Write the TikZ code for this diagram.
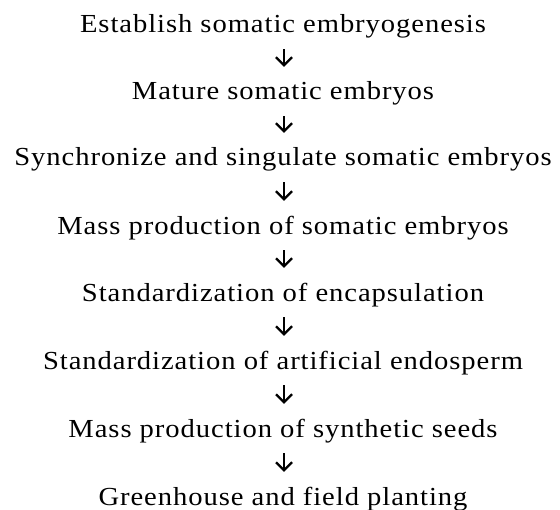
\documentclass[tikz,border=0pt]{standalone}
\usepackage{fontspec}
\setmainfont[LetterSpace=3.6,FakeStretch=1.1]{Liberation Serif}
\usetikzlibrary{arrows.meta}
\begin{document}
\begin{tikzpicture}[x=1bp,y=1bp,
  stage/.style={inner sep=0pt, text height=18bp, text depth=6bp, font=\fontsize{26bp}{30bp}\selectfont, anchor=base},
  flow/.style={-{Straight Barb[length=8bp,width=16bp]}, line width=2.2bp, shorten <=10bp, shorten >=15bp}]
\useasboundingbox (0,0) rectangle (560,-510);
\node[stage] (s1) at (283,-33) {Establish somatic embryogenesis};
\node[stage] (s2) at (283,-100) {Mature somatic embryos};
\node[stage] (s3) at (283,-166) {Synchronize and singulate somatic embryos};
\node[stage] (s4) at (283,-234) {Mass production of somatic embryos};
\node[stage] (s5) at (283,-301) {Standardization of encapsulation};
\node[stage] (s6) at (283,-369) {Standardization of artificial endosperm};
\node[stage] (s7) at (283,-437) {Mass production of synthetic seeds};
\node[stage] (s8) at (283,-505) {Greenhouse and field planting};
\foreach \a/\b in {s1/s2,s2/s3,s3/s4,s4/s5,s5/s6,s6/s7,s7/s8}
  \draw[flow] (\a.south -| 284,0) -- (\b.north -| 284,0);
\end{tikzpicture}
\end{document}
